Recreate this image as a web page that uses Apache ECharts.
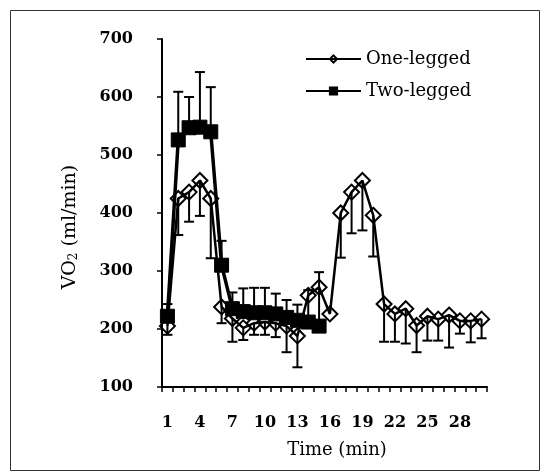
<!DOCTYPE html>
<html>
<head>
<meta charset="utf-8">
<script src="https://cdn.jsdelivr.net/npm/echarts@6/dist/echarts.min.js"></script>
<style>
html,body{margin:0;padding:0;background:#fff;}
#c{width:542px;height:473px;}
</style>
</head>
<body>
<div id="c"></div>
<script>
// ---- data ----
const categories = ['1','2','3','4','5','6','7','8','9','10','11','12','13','14','15','16','17','18','19','20','21','22','23','24','25','26','27','28','29','30'];
const yTicks = [100, 200, 300, 400, 500, 600, 700];

const oneLegged = [205,425,436,456,425,238,218,202,210,212,210,205,188,258,272,226,400,436,456,396,243,226,235,206,222,217,224,214,214,217];
const oneLow    = [190,362,385,395,322,210,178,181,190,190,186,160,134,258,272,226,323,365,370,325,178,178,175,160,180,180,168,192,177,184];
const oneHigh   = [205,425,436,456,425,238,218,202,210,212,210,205,188,258,272,226,400,436,456,396,243,226,235,206,222,217,224,214,214,217];

const twoLegged = [222,526,547,548,540,310,235,230,228,228,226,220,215,212,205];
const twoLow    = [222,526,547,548,540,310,235,230,228,228,226,220,215,212,205];
const twoHigh   = [243,609,600,643,617,352,263,270,271,271,261,250,242,267,298];

const seriesNames = ['One-legged', 'Two-legged'];

// ---- build ----
function errData(vals, lo, hi) {
  return vals.map((v, i) => [i, lo[i], hi[i], v]);
}
function errRender(params, api) {
  const i = api.value(0), lo = api.value(1), hi = api.value(2), v = api.value(3);
  const pv = api.coord([i, v]);
  const cap = 5;
  const style = {stroke: '#000', lineWidth: 2};
  const ch = [];
  if (lo < v) {
    const p = api.coord([i, lo]);
    ch.push({type: 'line', shape: {x1: pv[0], y1: pv[1], x2: p[0], y2: p[1]}, style: style});
    ch.push({type: 'line', shape: {x1: p[0] - cap, y1: p[1], x2: p[0] + cap, y2: p[1]}, style: style});
  }
  if (hi > v) {
    const p = api.coord([i, hi]);
    ch.push({type: 'line', shape: {x1: pv[0], y1: pv[1], x2: p[0], y2: p[1]}, style: style});
    ch.push({type: 'line', shape: {x1: p[0] - cap, y1: p[1], x2: p[0] + cap, y2: p[1]}, style: style});
  }
  return {type: 'group', children: ch};
}

const serif = 'DejaVu Serif';
const chart = echarts.init(document.getElementById('c'), null, {renderer: 'canvas'});
chart.setOption({
  animation: false,
  backgroundColor: '#fff',
  graphic: [{
    type: 'rect', left: 8, top: 8, shape: {width: 529, height: 460},
    style: {fill: 'none', stroke: '#333', lineWidth: 1}, silent: true, z: -1
  }],
  grid: {left: 162, right: 55, top: 39, bottom: 86, containLabel: false},
  legend: {
    data: seriesNames,
    orient: 'vertical',
    left: 300, top: 45,
    itemWidth: 55, itemHeight: 9, itemGap: 14,
    textStyle: {fontFamily: serif, fontSize: 18, color: '#000'}
  },
  xAxis: {
    type: 'category',
    data: categories,
    boundaryGap: true,
    name: 'Time (min)',
    nameLocation: 'middle',
    nameGap: 54,
    nameTextStyle: {fontFamily: serif, fontSize: 18, color: '#000', padding: [0, 0, 0, 25]},
    axisLine: {lineStyle: {color: '#000', width: 2}},
    axisTick: {show: true, interval: 0, inside: false, length: 5, lineStyle: {color: '#000', width: 1.5}},
    axisLabel: {interval: 2, margin: 28, fontFamily: serif, fontWeight: 'bold', fontSize: 16, color: '#000'},
    splitLine: {show: false}
  },
  yAxis: {
    type: 'value',
    min: yTicks[0], max: yTicks[yTicks.length - 1], interval: 100,
    name: '{a|VO}{s|2}{a| (ml/min)}',
    nameLocation: 'middle',
    nameGap: 82,
    nameRotate: 90,
    nameTextStyle: {
      padding: [0, 28, 0, 0],
      rich: {
        a: {fontFamily: serif, fontSize: 19, color: '#000'},
        s: {fontFamily: serif, fontSize: 12, color: '#000', verticalAlign: 'bottom', padding: [8, 0, 0, 0]}
      }
    },
    axisLine: {show: true, lineStyle: {color: '#000', width: 2}},
    axisTick: {show: true, inside: false, length: 5, lineStyle: {color: '#000', width: 1.5}},
    axisLabel: {margin: 29, fontFamily: serif, fontWeight: 'bold', fontSize: 16, color: '#000'},
    splitLine: {show: false}
  },
  series: [
    {
      type: 'custom', name: 'err1', renderItem: errRender,
      data: errData(oneLegged, oneLow, oneHigh), encode: {x: 0, y: [1, 2]}, z: 1, silent: true
    },
    {
      type: 'custom', name: 'err2', renderItem: errRender,
      data: errData(twoLegged, twoLow, twoHigh), encode: {x: 0, y: [1, 2]}, z: 1, silent: true
    },
    {
      type: 'line', name: seriesNames[0], data: oneLegged,
      symbol: 'diamond', symbolSize: 15, showAllSymbol: true,
      lineStyle: {color: '#000', width: 2.5},
      itemStyle: {color: 'rgba(0,0,0,0)', borderColor: '#000', borderWidth: 2},
      z: 2
    },
    {
      type: 'line', name: seriesNames[1], data: twoLegged,
      symbol: 'rect', symbolSize: 14, showAllSymbol: true,
      lineStyle: {color: '#000', width: 3.5},
      itemStyle: {color: '#000', borderColor: '#000', borderWidth: 1},
      z: 3
    }
  ]
});
</script>
</body>
</html>
